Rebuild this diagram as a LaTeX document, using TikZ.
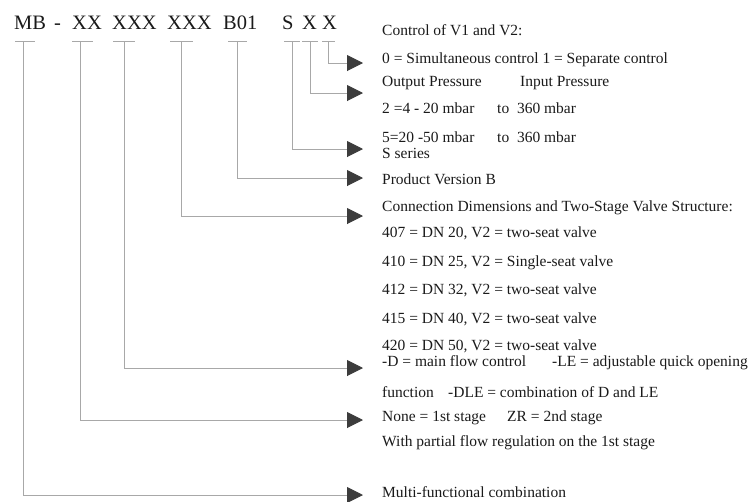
\documentclass[tikz,border=0pt]{standalone}
\usepackage{fontspec}
\setmainfont{Liberation Serif}
\usetikzlibrary{arrows.meta}
\definecolor{linegray}{HTML}{A8A8A8}
\definecolor{tipgray}{HTML}{3C3C3C}
\definecolor{txtcol}{HTML}{1A1A1A}
\begin{document}
\begin{tikzpicture}[x=1pt,y=-1pt,
  hdr/.style={font=\fontsize{20.5}{24}\selectfont, inner sep=0pt, anchor=base west, text=txtcol},
  txt/.style={font=\fontsize{15.5}{18}\selectfont, inner sep=0pt, anchor=base west, text=txtcol},
  tickbar/.style={draw=linegray, line width=1pt},
  conn/.style={draw=linegray, line width=1pt, -{Triangle[length=16pt,width=16pt,color=tipgray]}}]
\useasboundingbox (0,0) rectangle (750,501);
% header
\node[hdr] (hMB) at (14,29) {MB};
\node[hdr] (hdash) at (54,29) {-};
\node[hdr] (hXX) at (72,29) {XX};
\node[hdr] (hXXXa) at (112,29) {XXX};
\node[hdr] (hXXXb) at (167,29) {XXX};
\node[hdr] (hB) at (223,29) {B01};
\node[hdr] (hS) at (282,29) {S};
\node[hdr] (hXa) at (302,29) {X};
\node[hdr] (hXb) at (322,29) {X};
% tick tops
\coordinate (tMB) at (23.5,41);
\coordinate (tXX) at (80,41);
\coordinate (tXXXa) at (124,41);
\coordinate (tXXXb) at (181,41);
\coordinate (tB) at (237,41);
\coordinate (tS) at (292,41);
\coordinate (tXa) at (310,41);
\coordinate (tXb) at (328,41);
\draw[tickbar] ([xshift=-8.5pt]tMB) -- ([xshift=11.5pt]tMB);
\draw[tickbar] ([xshift=-8pt]tXX) -- ([xshift=13pt]tXX);
\draw[tickbar] ([xshift=-11pt]tXXXa) -- ([xshift=11pt]tXXXa);
\draw[tickbar] ([xshift=-11pt]tXXXb) -- ([xshift=12pt]tXXXb);
\draw[tickbar] ([xshift=-9pt]tB) -- ([xshift=10pt]tB);
\draw[tickbar] ([xshift=-8pt]tS) -- ([xshift=8pt]tS);
\draw[tickbar] ([xshift=-8pt]tXa) -- ([xshift=8pt]tXa);
\draw[tickbar] ([xshift=-6pt]tXb) -- ([xshift=7pt]tXb);
% arrow ends
\coordinate (eXb) at (363,63);
\coordinate (eXa) at (363,93);
\coordinate (eS) at (363,149);
\coordinate (eB) at (363,178);
\coordinate (eXXXb) at (363,216);
\coordinate (eXXXa) at (363,368);
\coordinate (eXX) at (363,420);
\coordinate (eMB) at (363,495);
\draw[conn] (tXb) |- (eXb);
\draw[conn] (tXa) |- (eXa);
\draw[conn] (tS) |- (eS);
\draw[conn] (tB) |- (eB);
\draw[conn] (tXXXb) |- (eXXXb);
\draw[conn] (tXXXa) |- (eXXXa);
\draw[conn] (tXX) |- (eXX);
\draw[conn] (tMB) |- (eMB);
% texts
\node[txt] (l1) at (382,35) {Control of V1 and V2:};
\node[txt] (l2) at (382,63) {0 = Simultaneous control 1 = Separate control};
\node[txt] (l3a) at (382,86) {Output Pressure};
\node[txt] (l3b) at (520,86) {Input Pressure};
\node[txt] (l4a) at (382,113) {2 =4 - 20 mbar};
\node[txt] (l4b) at (497,113) {to\ \ 360 mbar};
\node[txt] (l5a) at (382,142) {5=20 -50 mbar};
\node[txt] (l5b) at (497,142) {to\ \ 360 mbar};
\node[txt] (l6) at (382,158) {S series};
\node[txt] (l7) at (382,184) {Product Version B};
\node[txt] (l8) at (382,211) {Connection Dimensions and Two-Stage Valve Structure:};
\node[txt] (l9) at (382,237) {407 = DN 20, V2 = two-seat valve};
\node[txt] (l10) at (382,266) {410 = DN 25, V2 = Single-seat valve};
\node[txt] (l11) at (382,294) {412 = DN 32, V2 = two-seat valve};
\node[txt] (l12) at (382,323) {415 = DN 40, V2 = two-seat valve};
\node[txt] (l13) at (382,350) {420 = DN 50, V2 = two-seat valve};
\node[txt] (l14a) at (382,366) {-D = main flow control};
\node[txt] (l14b) at (552,366) {-LE = adjustable quick opening};
\node[txt] (l15a) at (382,397) {function};
\node[txt] (l15b) at (448,397) {-DLE = combination of D and LE};
\node[txt] (l16a) at (382,421) {None = 1st stage};
\node[txt] (l16b) at (507,421) {ZR = 2nd stage};
\node[txt] (l17) at (382,446) {With partial flow regulation on the 1st stage};
\node[txt] (l18) at (382,497) {Multi-functional combination};
\end{tikzpicture}
\end{document}
